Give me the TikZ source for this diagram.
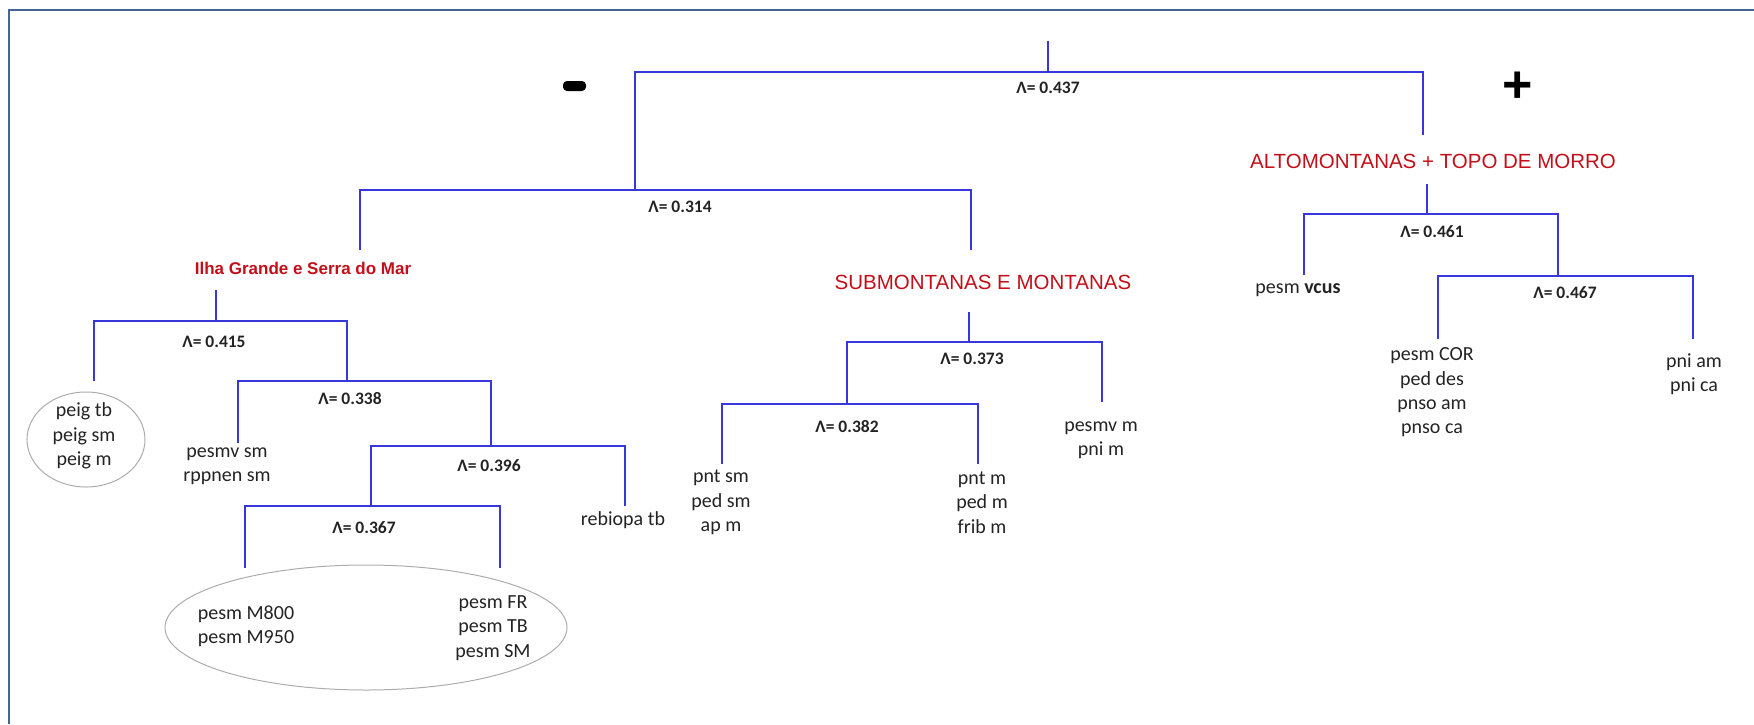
\documentclass[tikz,border=0pt]{standalone}
\usepackage{fontspec}
\setmainfont{Carlito}
\newfontfamily\arial{Liberation Sans}
\usetikzlibrary{shapes.geometric}
\definecolor{tree}{RGB}{55,55,220}
\definecolor{framecol}{RGB}{70,100,150}
\definecolor{labred}{RGB}{195,15,25}
\definecolor{txt}{RGB}{35,35,35}
\tikzset{
  branch/.style={draw=tree, line width=2pt},
  leaf/.style={font=\fontsize{20}{24.4}\selectfont, align=center, inner sep=0pt, text=txt},
  lam/.style={font=\bfseries\fontsize{17.5}{20}\selectfont, inner sep=0pt, text=txt},
  group/.style={font=\arial\fontsize{20.5}{24}\selectfont, inner sep=0pt, text=labred},
  groupb/.style={font=\arial\bfseries\fontsize{17}{20}\selectfont, inner sep=0pt, text=labred},
  oval/.style={ellipse, draw=gray!65, line width=1pt, inner sep=0pt}
}
\begin{document}
\begin{tikzpicture}[x=1pt,y=-1pt]
\useasboundingbox (0,0) rectangle (1754,724);
\draw[framecol, line width=2.5pt] (9,724) -- (9,10) -- (1754,10);

% signs
\node[fill=black, minimum width=23pt, minimum height=10pt, rounded corners=4pt, inner sep=0pt] (minus) at (574.5,86) {};
\node[font=\arial\bfseries\fontsize{52}{52}\selectfont, inner sep=0pt] (plus) at (1517.5,87) {+};

% labels
\node[lam] (l437) at (1048,88) {Λ= 0.437};
\node[lam] (l314) at (680,207) {Λ= 0.314};
\node[lam] (l415) at (214,342) {Λ= 0.415};
\node[lam] (l338) at (350,399) {Λ= 0.338};
\node[lam] (l396) at (489,466) {Λ= 0.396};
\node[lam] (l367) at (364,528) {Λ= 0.367};
\node[lam] (l373) at (972,359) {Λ= 0.373};
\node[lam] (l382) at (847,427) {Λ= 0.382};
\node[lam] (l461) at (1432,232) {Λ= 0.461};
\node[lam] (l467) at (1565,293) {Λ= 0.467};

\node[groupb] (ilha) at (303,268) {Ilha Grande e Serra do Mar};
\node[group] (sub) at (983,282) {SUBMONTANAS E MONTANAS};
\node[group] (alto) at (1433,161) {ALTOMONTANAS + TOPO DE MORRO};

% leaves
\node[oval, minimum width=118pt, minimum height=95pt] (ov1) at (86,439.5) {};
\node[leaf] (peig) at (84,436) {peig tb\\peig sm\\peig m};
\node[leaf] (pesmv) at (227,466) {pesmv sm\\rppnen sm};
\node[leaf] (rebiopa) at (623,520) {rebiopa tb};
\node[oval, minimum width=402pt, minimum height=125pt] (ov2) at (366,627.5) {};
\node[leaf] (m800) at (246,626) {pesm M800\\pesm M950};
\node[leaf] (fr) at (493,628) {pesm FR\\pesm TB\\pesm SM};
\node[leaf] (pntsm) at (721,502.5) {pnt sm\\ped sm\\ap m};
\node[leaf] (pntm) at (982,502.5) {pnt m\\ped m\\frib m};
\node[leaf] (pesmvm) at (1101,440) {pesmv m\\pni m};
\node[leaf] (vcus) at (1298,290) {pesm \textbf{vcus}};
\node[leaf] (cor) at (1432,392.5) {pesm COR\\ped des\\pnso am\\pnso ca};
\node[leaf] (pni) at (1694,374) {pni am\\pni ca};

% tree coordinates
\coordinate (t437) at (1048,41);
\coordinate (j437) at (1048,72);
\coordinate (j314) at (635,190);
\coordinate (ealto) at (1423,135);
\coordinate (a314) at (360,250);
\coordinate (b314) at (971,250);
\coordinate (tilha) at (216,290);
\coordinate (j415) at (216,321);
\coordinate (a415) at (94,381);
\coordinate (j338) at (347,381);
\coordinate (a338) at (238,443);
\coordinate (j396) at (491,446);
\coordinate (j367) at (371,506);
\coordinate (b396) at (625,506);
\coordinate (a367) at (245,568);
\coordinate (b367) at (500,568);
\coordinate (tsub) at (969,312);
\coordinate (j373) at (969,342);
\coordinate (j382) at (847,404);
\coordinate (b373) at (1102,402);
\coordinate (a382) at (722,464);
\coordinate (b382) at (978,464);
\coordinate (talto) at (1427,184);
\coordinate (j461) at (1427,214);
\coordinate (a461) at (1304,275);
\coordinate (j467) at (1558,276);
\coordinate (a467) at (1438,339);
\coordinate (b467) at (1693,339);

% branches
\draw[branch] (t437) -- (j437);
\draw[branch] (j314) |- (j437) -| (ealto);
\draw[branch] (a314) |- (j314) -| (b314);
\draw[branch] (tilha) -- (j415);
\draw[branch] (a415) |- (j415) -| (j338);
\draw[branch] (a338) |- (j338) -| (j396);
\draw[branch] (j367) |- (j396) -| (b396);
\draw[branch] (a367) |- (j367) -| (b367);
\draw[branch] (tsub) -- (j373);
\draw[branch] (j382) |- (j373) -| (b373);
\draw[branch] (a382) |- (j382) -| (b382);
\draw[branch] (talto) -- (j461);
\draw[branch] (a461) |- (j461) -| (j467);
\draw[branch] (a467) |- (j467) -| (b467);
\end{tikzpicture}
\end{document}
